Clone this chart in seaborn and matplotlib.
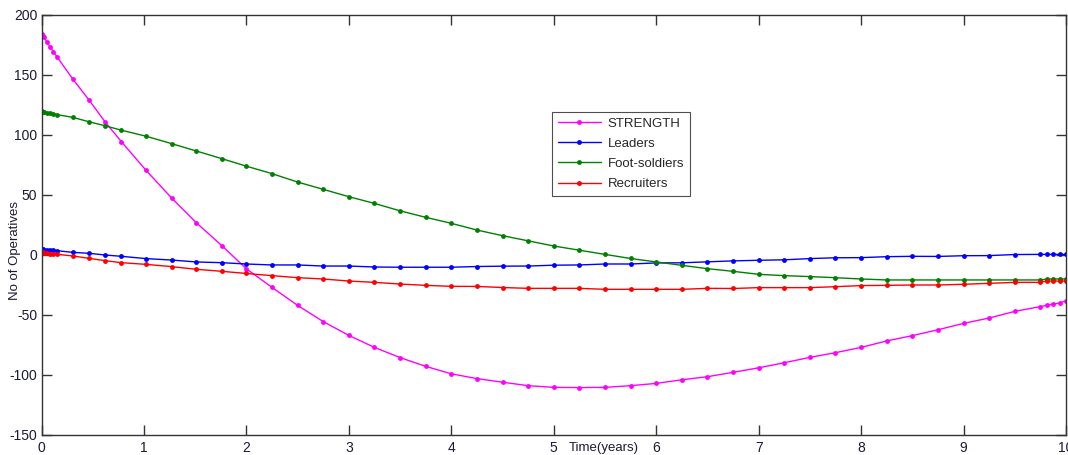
import matplotlib
matplotlib.use("Agg")
import matplotlib.pyplot as plt
import seaborn as sns
import pandas as pd

times = [0, 0.01, 0.025, 0.05, 0.083, 0.116, 0.15, 0.305, 0.465, 0.62, 0.78,
         1.02, 1.27, 1.51, 1.76, 2.0, 2.25, 2.5, 2.75, 3.0, 3.25, 3.5, 3.75,
         4.0, 4.25, 4.5, 4.75, 5.0, 5.25, 5.5, 5.75, 6.0, 6.25, 6.5, 6.75,
         7.0, 7.25, 7.5, 7.75, 8.0, 8.25, 8.5, 8.75, 9.0, 9.25, 9.5, 9.75,
         9.81, 9.87, 9.94, 10.0]

strength = [184, 182.8, 181.5, 177.8, 173.6, 169.4, 165.3, 146.7, 129, 111, 94.4,
            70.6, 47.5, 27, 7.8, -11.5, -27, -42, -55.5, -67, -77, -85.5, -92.8,
            -99, -103, -106, -108.9, -110.3, -110.5, -110.3, -108.9, -107, -104, -101.4, -97.8,
            -94, -89.8, -85.3, -81.4, -77, -71.6, -67.2, -62.3, -57, -52.5, -47, -43,
            -42, -41, -40, -38]

leaders = [5, 4.6, 4.4, 4.2, 4.0, 3.8, 3.6, 2.2, 1.4, 0, -1.1,
           -3, -4.2, -5.8, -6.4, -7.5, -8.3, -8.3, -9.2, -9.2, -10, -10.2, -10.2,
           -10.2, -9.6, -9.3, -9.2, -8.5, -8.3, -7.5, -7.5, -6.6, -6.5, -5.7, -4.9,
           -4.4, -4.0, -3.0, -2.3, -2.2, -1.4, -1.1, -1.2, -0.6, -0.5, 0.4, 0.5,
           0.5, 0.5, 0.5, 0.5]

foot_soldiers = [120.3, 119.5, 119, 118.5, 118, 117.5, 117, 114.7, 111, 107.7, 104,
                 99, 92.8, 86.7, 80.3, 74, 67.8, 60.8, 54.7, 48.6, 43, 36.8, 31.4,
                 26.4, 20.8, 16.1, 11.8, 7.5, 4.0, 0.5, -2.9, -5.8, -8.6, -11.4, -13.6,
                 -16.1, -17.2, -18, -18.9, -20, -20.8, -20.8, -20.8, -20.8, -20.8, -20.8, -20.8,
                 -20.2, -20, -20, -20]

recruiters = [2.8, 2.2, 1.8, 1.5, 1.2, 0.9, 0.6, -0.8, -2.8, -4.7, -6.4,
              -7.8, -9.7, -11.9, -13.6, -15.4, -17.2, -18.9, -20, -21.7, -22.8, -24.2, -25.3,
              -26.1, -26.2, -27.1, -27.8, -27.8, -27.8, -28.6, -28.6, -28.6, -28.6, -27.8, -27.9,
              -27.2, -27.2, -27.2, -26.4, -25.5, -25.3, -25.0, -25.0, -24.4, -23.6, -22.8, -22.8,
              -21.7, -21.7, -21.7, -21.7]

series_names = ["STRENGTH", "Leaders", "Foot-soldiers", "Recruiters"]
series_values = [strength, leaders, foot_soldiers, recruiters]
series_colors = ["#ff00ff", "#0000ff", "#008000", "#ff0000"]

x_ticks = list(range(0, 11))
y_ticks = [-150, -100, -50, 0, 50, 100, 150, 200]

sns.set_style("white")
plt.rcParams["font.family"] = ["Liberation Sans", "DejaVu Sans"]
plt.rcParams["axes.unicode_minus"] = False

fig = plt.figure(figsize=(10.68, 4.55), dpi=100)
ax = fig.add_axes([41.5 / 1068, 20 / 455, (1066 - 41.5) / 1068, (435 - 15) / 455])

for name, vals, col in zip(series_names, series_values, series_colors):
    df = pd.DataFrame({"t": times, "v": vals})
    sns.lineplot(data=df, x="t", y="v", ax=ax, color=col, linewidth=1.0,
                 marker="o", markersize=3.5, markeredgewidth=0, label=name,
                 sort=False)

ax.set_xlim(0, 10)
ax.set_ylim(-150, 200)
ax.set_xticks(x_ticks)
ax.set_yticks(y_ticks)
ax.set_xlabel("")
ax.set_ylabel("")
ax.tick_params(axis="both", direction="in", length=7, width=1, color="#333333",
               labelsize=10, labelcolor="#1a1a33", top=True, right=True,
               bottom=True, left=True, pad=3)
ax.tick_params(axis="x", pad=4)
for s in ax.spines.values():
    s.set_color("#333333")
    s.set_linewidth(1.0)

leg = ax.legend(loc="upper left", bbox_to_anchor=(0.498, 0.77), fontsize=9.5,
                frameon=True, fancybox=False, edgecolor="#222222",
                borderpad=0.45, labelspacing=0.6, handlelength=3.3,
                handletextpad=0.5, borderaxespad=0)
leg.get_frame().set_linewidth(0.8)

fig.text(604 / 1068, 1 - 448 / 455, "Time(years)", ha="center", va="center",
         fontsize=9.5, color="#1a1a33")
fig.text(15 / 1068, 1 - 250 / 455, "No of Operatives", ha="center", va="center",
         rotation=90, fontsize=9.5, color="#1a1a33")

fig.savefig("out.png", dpi=100)
